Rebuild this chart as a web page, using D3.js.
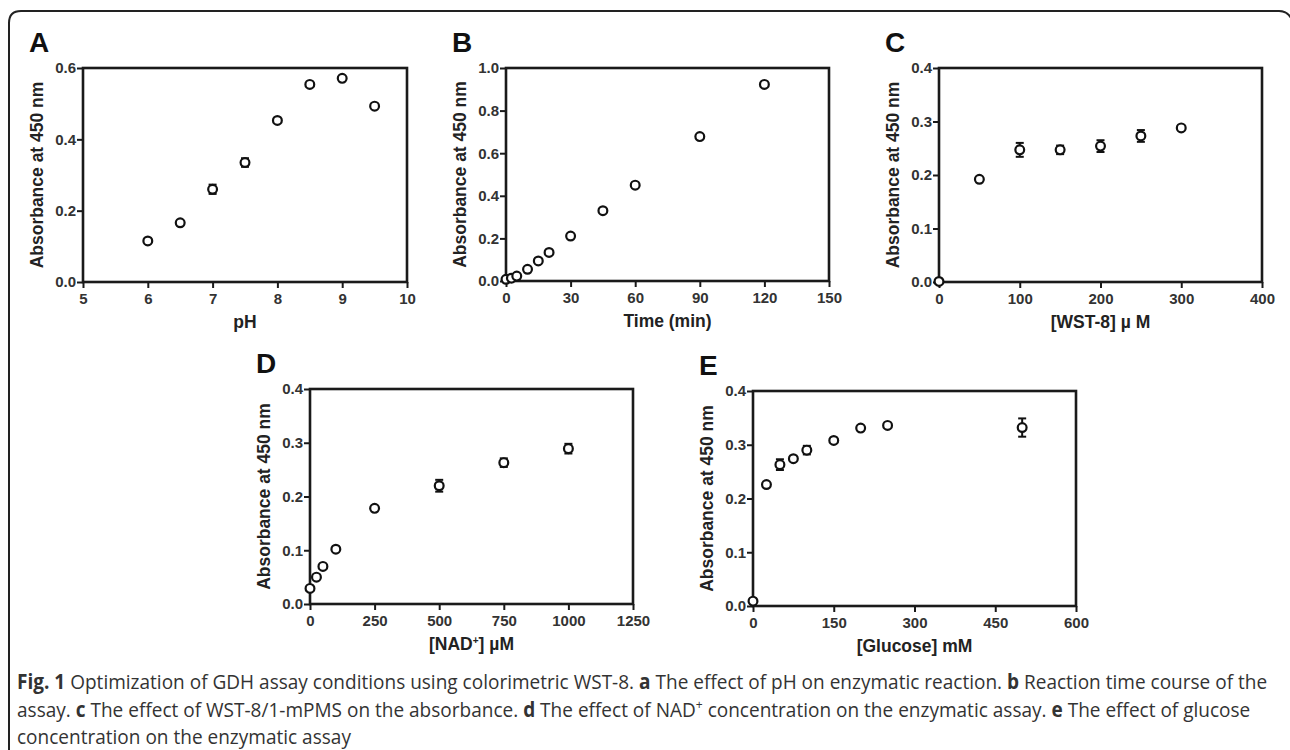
<!DOCTYPE html>
<html lang="en">
<head>
  <meta charset="UTF-8">
  <title>Fig. 1 GDH assay</title>
  <script src="https://cdnjs.cloudflare.com/ajax/libs/d3/7.8.5/d3.min.js"></script>
  <style>
    * { margin: 0; padding: 0; }
    html, body { background: #fff; }
    svg { display: block; }
    .tick text { font-family: "Liberation Sans", Arial, sans-serif; font-weight: bold; font-size: 15px; fill: #333; }
    .lab { font-family: "Liberation Sans", Arial, sans-serif; font-weight: bold; font-size: 17.5px; fill: #222; }
    .letter { font-family: "Liberation Sans", Arial, sans-serif; font-weight: bold; font-size: 28px; fill: #111; }
    .cap { font-family: "Open Sans", sans-serif; font-size: 20.5px; fill: #333; }
  </style>
</head>
<body>
<div id="app"></div>
<script>
  // A: pH
  const phX = [6, 6.5, 7, 7.5, 8, 8.5, 9, 9.5]
  const phY = [0.115, 0.166, 0.260, 0.335, 0.453, 0.554, 0.571, 0.493]
  const phErr = [0.003, 0.004, 0.013, 0.012, 0.004, 0.004, 0.004, 0.004]
  // B: time (min)
  const timeX = [0, 2.5, 5, 10, 15, 20, 30, 45, 60, 90, 120]
  const timeY = [0.008, 0.013, 0.023, 0.055, 0.094, 0.134, 0.211, 0.330, 0.450, 0.678, 0.923]
  const timeErr = [0.002, 0.002, 0.003, 0.003, 0.003, 0.004, 0.004, 0.005, 0.006, 0.006, 0.006]
  // C: [WST-8] uM
  const wstX = [0, 50, 100, 150, 200, 250, 300]
  const wstY = [0.001, 0.192, 0.247, 0.247, 0.254, 0.273, 0.288]
  const wstErr = [0.001, 0.003, 0.013, 0.008, 0.011, 0.011, 0.003]
  // D: [NAD+] uM
  const nadX = [0, 25, 50, 100, 250, 500, 750, 1000]
  const nadY = [0.029, 0.050, 0.070, 0.102, 0.178, 0.220, 0.263, 0.289]
  const nadErr = [0.002, 0.002, 0.002, 0.003, 0.003, 0.011, 0.008, 0.009]
  // E: [Glucose] mM
  const gluX = [0, 25, 50, 75, 100, 150, 200, 250, 500]
  const gluY = [0.009, 0.226, 0.263, 0.274, 0.290, 0.308, 0.331, 0.336, 0.332]
  const gluErr = [0.002, 0.003, 0.010, 0.003, 0.008, 0.003, 0.003, 0.003, 0.017]

  const ticksA = [5, 6, 7, 8, 9, 10]
  const ticksB = [0, 30, 60, 90, 120, 150]
  const ticksC = [0, 100, 200, 300, 400]
  const ticksD = [0, 250, 500, 750, 1000, 1250]
  const ticksE = [0, 150, 300, 450, 600]
  const yTicks06 = [0, 0.2, 0.4, 0.6]
  const yTicks10 = [0, 0.2, 0.4, 0.6, 0.8, 1.0]
  const yTicks04 = [0, 0.1, 0.2, 0.3, 0.4]

  const W = 1290, H = 750
  const svg = d3.select('#app').append('svg').attr('width', W).attr('height', H)

  // outer frame (only top-left part visible)
  svg.append('path')
    .attr('d', 'M9,752 L9,23 Q9,11 21,11 L1279,11 Q1287,11 1291,18')
    .attr('fill', 'none').attr('stroke', '#222').attr('stroke-width', 2)

  const panels = [
    { letter: 'A', box: [83, 68, 407, 282], x: phX, y: phY, e: phErr, xd: [5, 10], xt: ticksA, yd: [0, 0.6], yt: yTicks06, xl: 'pH' },
    { letter: 'B', box: [506, 68, 829, 281], x: timeX, y: timeY, e: timeErr, xd: [0, 150], xt: ticksB, yd: [0, 1], yt: yTicks10, xl: 'Time (min)' },
    { letter: 'C', box: [939, 68, 1262, 282], x: wstX, y: wstY, e: wstErr, xd: [0, 400], xt: ticksC, yd: [0, 0.4], yt: yTicks04, xl: '[WST-8] \u00b5 M' },
    { letter: 'D', box: [310, 389, 633, 604], x: nadX, y: nadY, e: nadErr, xd: [0, 1250], xt: ticksD, yd: [0, 0.4], yt: yTicks04, xl: 'nad' },
    { letter: 'E', box: [753, 391, 1076, 606], x: gluX, y: gluY, e: gluErr, xd: [0, 600], xt: ticksE, yd: [0, 0.4], yt: yTicks04, xl: '[Glucose] mM' }
  ]

  panels.forEach(p => {
    const [x0, y0, x1, y1] = p.box
    const w = x1 - x0, h = y1 - y0
    const g = svg.append('g').attr('transform', `translate(${x0},${y0})`)
    const xs = d3.scaleLinear().domain(p.xd).range([0, w])
    const ys = d3.scaleLinear().domain(p.yd).range([h, 0])

    g.append('g').attr('transform', `translate(0,${h})`)
      .call(d3.axisBottom(xs).tickValues(p.xt).tickSize(6).tickSizeOuter(0).tickPadding(5).tickFormat(d3.format('d')))
    g.append('g')
      .call(d3.axisLeft(ys).tickValues(p.yt).tickSize(6).tickSizeOuter(0).tickPadding(1).tickFormat(d3.format('.1f')))
    g.selectAll('.domain').remove()
    g.selectAll('.tick line').attr('stroke', '#1a1a1a').attr('stroke-width', 2)

    g.append('rect').attr('width', w).attr('height', h)
      .attr('fill', 'none').attr('stroke', '#1a1a1a').attr('stroke-width', 2.6)

    const pts = p.x.map((v, i) => ({ x: v, y: p.y[i], e: p.e[i] }))
    const eb = g.selectAll('.eb').data(pts).join('g').attr('class', 'eb')
      .attr('stroke', '#111').attr('stroke-width', 2)
    eb.append('line')
      .attr('x1', d => xs(d.x)).attr('x2', d => xs(d.x))
      .attr('y1', d => ys(d.y - d.e)).attr('y2', d => ys(d.y + d.e))
    eb.filter(d => d.e > 0.006).selectAll('.cap').data(d => [d.y - d.e, d.y + d.e].map(v => ({ x: d.x, v })))
      .join('line').attr('class', 'cap')
      .attr('x1', d => xs(d.x) - 4).attr('x2', d => xs(d.x) + 4)
      .attr('y1', d => ys(d.v)).attr('y2', d => ys(d.v))

    g.selectAll('circle').data(pts).join('circle')
      .attr('cx', d => xs(d.x)).attr('cy', d => ys(d.y)).attr('r', 4.4)
      .attr('fill', '#fff').attr('stroke', '#111').attr('stroke-width', 2.2)

    svg.append('text').attr('class', 'letter').attr('x', x0 - 54).attr('y', y0 - 16).text(p.letter)

    svg.append('text').attr('class', 'lab')
      .attr('transform', `translate(${x0 - 40},${y0 + h / 2}) rotate(-90)`)
      .attr('text-anchor', 'middle').text('Absorbance at 450 nm')

    const xl = svg.append('text').attr('class', 'lab')
      .attr('x', x0 + w / 2).attr('y', y1 + 46).attr('text-anchor', 'middle')
    if (p.xl === 'nad') {
      xl.append('tspan').text('[NAD')
      xl.append('tspan').attr('dy', -6).attr('font-size', '10px').text('+')
      xl.append('tspan').attr('dy', 6).text('] \u00b5M')
    } else {
      xl.text(p.xl)
    }
  })

  // caption: [text, kind] kind 0 normal, 1 bold, 2 superscript
  const capLines = [
    [['Fig. 1', 1], [' Optimization of GDH assay conditions using colorimetric WST-8. ', 0], ['a', 1], [' The effect of pH on enzymatic reaction. ', 0], ['b', 1], [' Reaction time course of the', 0]],
    [['assay. ', 0], ['c', 1], [' The effect of WST-8/1-mPMS on the absorbance. ', 0], ['d', 1], [' The effect of NAD', 0], ['+', 2], [' concentration on the enzymatic assay. ', 0], ['e', 1], [' The effect of glucose', 0]],
    [['concentration on the enzymatic assay', 0]]
  ]
  const capY = [689, 717, 744]
  const capTexts = capLines.map(line => {
    const t = svg.append('text').attr('class', 'cap')
    let wasSup = false
    line.forEach(([s, k]) => {
      const ts = t.append('tspan').text(s)
      if (k === 1) ts.attr('font-weight', 'bold')
      if (k === 2) ts.attr('dy', -8).attr('font-size', '13px')
      else if (wasSup) ts.attr('dy', 8)
      wasSup = k === 2
    })
    return t
  })
  const sx = 1251 / capTexts[0].node().getComputedTextLength()
  capTexts.forEach((t, i) => t.attr('transform', `translate(17,${capY[i]}) scale(${sx},1)`))
</script>
</body>
</html>
